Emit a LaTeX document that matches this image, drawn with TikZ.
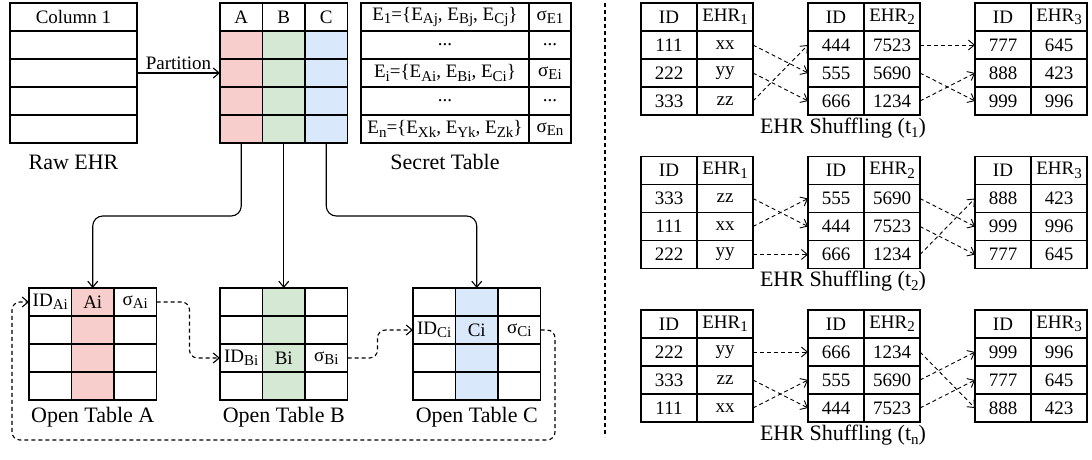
\documentclass[tikz,border=0pt]{standalone}
\usepackage{fontspec}
\setmainfont{Liberation Serif}
\usetikzlibrary{arrows.meta}

\definecolor{colA}{HTML}{F8CECC}
\definecolor{colB}{HTML}{D5E8D4}
\definecolor{colC}{HTML}{DAE8FC}

% large, low subscript as in the figure
\newcommand{\lowsub}[1]{\raisebox{-0.4ex}{\fontsize{15}{15}\selectfont #1}}

% one small ID/EHR table: name, x, y of the header, index, rows
\newcommand{\shuffletable}[5]{%
\node[shcell] (#1x0y0) at (#2,#3) {ID};
\node[shcell] (#1x1y0) at (#2+56,#3) {EHR\lowsub{#4}};
\foreach \idv/\ehrv [count=\rw] in {#5} {
\node[shcell] (#1x0y\rw) at (#2,#3+28*\rw) {\idv};
\node[shcell] (#1x1y\rw) at (#2+56,#3+28*\rw) {\ehrv};
}}

\begin{document}
\begin{tikzpicture}[x=1pt, y=-1pt, line width=1.1pt, >={Straight Barb[length=6pt,width=10pt]}]
\tikzstyle{cellr}=[rectangle, draw, outer sep=0pt, inner sep=0pt, minimum height=28pt, font=\fontsize{19}{21}\selectfont]
\tikzstyle{cellw}=[cellr, minimum width=42.5pt]
\tikzstyle{shcell}=[cellr, minimum width=56pt]
\tikzstyle{caption}=[font=\fontsize{22}{24}\selectfont]
\tikzstyle{flow}=[->, dash pattern=on 4pt off 3pt, rounded corners=8pt]
\tikzstyle{mapflow}=[->, dash pattern=on 4pt off 3pt, line width=0.9pt]

\useasboundingbox (0,0) rectangle (1092,460);

% raw EHR
\node[cellr, minimum width=127pt] (RAW0) at (73.5,17) {Column 1};
\foreach \rw in {1,...,4} {
\node[cellr, minimum width=127pt] (RAW\rw) at (73.5,17+28*\rw) {};
}
\node[caption] (RAWcap) at (73.5,162) {Raw EHR};

% partitioned table
\node[cellw] (PA0) at (241.25,17) {A};
\node[cellw] (PB0) at (283.75,17) {B};
\node[cellw] (PC0) at (326.25,17) {C};
\foreach \rw in {1,...,4} {
\node[cellw, fill=colA] (PA\rw) at (241.25,17+28*\rw) {};
\node[cellw, fill=colB] (PB\rw) at (283.75,17+28*\rw) {};
\node[cellw, fill=colC] (PC\rw) at (326.25,17+28*\rw) {};
}
\draw[->] (RAW2.east) -- (PA2.west) node[midway, above, font=\fontsize{19}{21}\selectfont, inner sep=3pt] (PARTlbl) {Partition};

% secret table
\node[cellr, minimum width=168pt] (SE0) at (445,17) {E\lowsub{1}=\{E\lowsub{Aj}, E\lowsub{Bj}, E\lowsub{Cj}\}};
\node[cellr, minimum width=42pt] (SS0) at (550,17) {σ\lowsub{E1}};
\node[cellr, minimum width=168pt] (SE1) at (445,45) {...};
\node[cellr, minimum width=42pt] (SS1) at (550,45) {...};
\node[cellr, minimum width=168pt] (SE2) at (445,73) {E\lowsub{i}=\{E\lowsub{Ai}, E\lowsub{Bi}, E\lowsub{Ci}\}};
\node[cellr, minimum width=42pt] (SS2) at (550,73) {σ\lowsub{Ei}};
\node[cellr, minimum width=168pt] (SE3) at (445,101) {...};
\node[cellr, minimum width=42pt] (SS3) at (550,101) {...};
\node[cellr, minimum width=168pt] (SE4) at (445,129) {E\lowsub{n}=\{E\lowsub{Xk}, E\lowsub{Yk}, E\lowsub{Zk}\}};
\node[cellr, minimum width=42pt] (SS4) at (550,129) {σ\lowsub{En}};
\node[caption] (SECcap) at (445,162) {Secret Table};

% open table A
\node[cellw] (OA0x0) at (50.25,302) {ID\lowsub{Ai}};
\node[cellw, fill=colA] (OA1x0) at (92.75,302) {Ai};
\node[cellw] (OA2x0) at (135.25,302) {σ\lowsub{Ai}};
\foreach \rw in {1,2,3} {
\node[cellw] (OA0x\rw) at (50.25,302+28*\rw) {};
\node[cellw, fill=colA] (OA1x\rw) at (92.75,302+28*\rw) {};
\node[cellw] (OA2x\rw) at (135.25,302+28*\rw) {};
}
\node[caption] (OAcap) at (92.75,417) {Open Table A};

% open table B
\foreach \rw in {0,1,3} {
\node[cellw] (OB0x\rw) at (241.25,302+28*\rw) {};
\node[cellw, fill=colB] (OB1x\rw) at (283.75,302+28*\rw) {};
\node[cellw] (OB2x\rw) at (326.25,302+28*\rw) {};
}
\node[cellw] (OB0x2) at (241.25,358) {ID\lowsub{Bi}};
\node[cellw, fill=colB] (OB1x2) at (283.75,358) {Bi};
\node[cellw] (OB2x2) at (326.25,358) {σ\lowsub{Bi}};
\node[caption] (OBcap) at (283.75,417) {Open Table B};

% open table C
\foreach \rw in {0,2,3} {
\node[cellw] (OC0x\rw) at (434.25,302+28*\rw) {};
\node[cellw, fill=colC] (OC1x\rw) at (476.75,302+28*\rw) {};
\node[cellw] (OC2x\rw) at (519.25,302+28*\rw) {};
}
\node[cellw] (OC0x1) at (434.25,330) {ID\lowsub{Ci}};
\node[cellw, fill=colC] (OC1x1) at (476.75,330) {Ci};
\node[cellw] (OC2x1) at (519.25,330) {σ\lowsub{Ci}};
\node[caption] (OCcap) at (476.75,417) {Open Table C};

% columns to open tables
\draw[->, rounded corners=10pt] (PA4.south) -- ++(0,73) -| (OA1x0.north);
\draw[->] (PB4.south) -- (OB1x0.north);
\draw[->, rounded corners=10pt] (PC4.south) -- ++(0,73) -| (OC1x0.north);

% signature chain
\draw[flow] (OA2x0.east) -- ++(33,0) |- (OB0x2.west);
\draw[flow] (OB2x2.east) -- ++(30,0) |- (OC0x1.west);
\coordinate (loopR) at (555,440);
\coordinate (loopL) at (12,440);
\draw[flow] (OC2x1.east) -| (loopR) -- (loopL) |- (OA0x0.west);

% divider
\draw[dash pattern=on 4pt off 3pt] (605,3) -- (605,437);

% shuffling t1
\shuffletable{Ta1}{669}{17}{1}{111/xx,222/yy,333/zz}
\shuffletable{Ta2}{836}{17}{2}{444/7523,555/5690,666/1234}
\shuffletable{Ta3}{1003}{17}{3}{777/645,888/423,999/996}
\draw[mapflow] (Ta1x1y1.east) -- (Ta2x0y2.west);
\draw[mapflow] (Ta1x1y2.east) -- (Ta2x0y3.west);
\draw[mapflow] (Ta1x1y3.east) -- (Ta2x0y1.west);
\draw[mapflow] (Ta2x1y1.east) -- (Ta3x0y1.west);
\draw[mapflow] (Ta2x1y2.east) -- (Ta3x0y3.west);
\draw[mapflow] (Ta2x1y3.east) -- (Ta3x0y2.west);
\node[caption] (Tacap) at (843,128) {EHR Shuffling (t\lowsub{1})};

% shuffling t2
\shuffletable{Tb1}{669}{170.5}{1}{333/zz,111/xx,222/yy}
\shuffletable{Tb2}{836}{170.5}{2}{555/5690,444/7523,666/1234}
\shuffletable{Tb3}{1003}{170.5}{3}{888/423,999/996,777/645}
\draw[mapflow] (Tb1x1y1.east) -- (Tb2x0y2.west);
\draw[mapflow] (Tb1x1y2.east) -- (Tb2x0y1.west);
\draw[mapflow] (Tb1x1y3.east) -- (Tb2x0y3.west);
\draw[mapflow] (Tb2x1y1.east) -- (Tb3x0y2.west);
\draw[mapflow] (Tb2x1y2.east) -- (Tb3x0y3.west);
\draw[mapflow] (Tb2x1y3.east) -- (Tb3x0y1.west);
\node[caption] (Tbcap) at (843,281.5) {EHR Shuffling (t\lowsub{2})};

% shuffling tn
\shuffletable{Tc1}{669}{324}{1}{222/yy,333/zz,111/xx}
\shuffletable{Tc2}{836}{324}{2}{666/1234,555/5690,444/7523}
\shuffletable{Tc3}{1003}{324}{3}{999/996,777/645,888/423}
\draw[mapflow] (Tc1x1y1.east) -- (Tc2x0y1.west);
\draw[mapflow] (Tc1x1y2.east) -- (Tc2x0y3.west);
\draw[mapflow] (Tc1x1y3.east) -- (Tc2x0y2.west);
\draw[mapflow] (Tc2x1y1.east) -- (Tc3x0y3.west);
\draw[mapflow] (Tc2x1y2.east) -- (Tc3x0y1.west);
\draw[mapflow] (Tc2x1y3.east) -- (Tc3x0y2.west);
\node[caption] (Tccap) at (843,435) {EHR Shuffling (t\lowsub{n})};
\end{tikzpicture}
\end{document}
